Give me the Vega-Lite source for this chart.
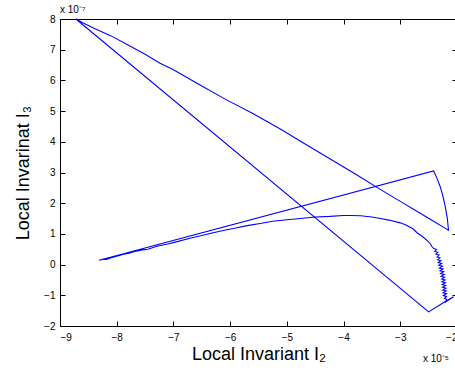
{
  "$schema": "https://vega.github.io/schema/vega-lite/v6.json",
  "width": 397,
  "height": 307,
  "autosize": {"type": "none"},
  "padding": {"left": 60, "top": 19, "right": 0, "bottom": 50},
  "background": "white",
  "config": {
    "font": "Liberation Sans",
    "view": {"stroke": null},
    "axis": {
      "grid": false,
      "domainColor": "black",
      "domainWidth": 1,
      "tickColor": "black",
      "tickWidth": 1,
      "tickSize": -5,
      "labelFont": "Liberation Sans",
      "labelFontSize": 10,
      "labelColor": "black",
      "titleFont": "Liberation Sans",
      "titleFontSize": 18,
      "titleFontWeight": "normal",
      "titleColor": "black"
    }
  },
  "datasets": {
    "traj": [
      {"k": 1, "i2": -8.31, "i3": 0.14},
      {"k": 2, "i2": -8.25, "i3": 0.17},
      {"k": 3, "i2": -8.18, "i3": 0.17},
      {"k": 4, "i2": -8.1, "i3": 0.22},
      {"k": 5, "i2": -7.95, "i3": 0.3},
      {"k": 6, "i2": -7.88, "i3": 0.34},
      {"k": 7, "i2": -7.8, "i3": 0.36},
      {"k": 8, "i2": -7.7, "i3": 0.42},
      {"k": 9, "i2": -7.55, "i3": 0.48},
      {"k": 10, "i2": -7.45, "i3": 0.5},
      {"k": 11, "i2": -7.29, "i3": 0.6},
      {"k": 12, "i2": -7.1, "i3": 0.67},
      {"k": 13, "i2": -6.95, "i3": 0.74},
      {"k": 14, "i2": -6.71, "i3": 0.86},
      {"k": 15, "i2": -6.5, "i3": 0.95},
      {"k": 16, "i2": -6.3, "i3": 1.04},
      {"k": 17, "i2": -6.1, "i3": 1.12},
      {"k": 18, "i2": -5.9, "i3": 1.19},
      {"k": 19, "i2": -5.7, "i3": 1.27},
      {"k": 20, "i2": -5.47, "i3": 1.34},
      {"k": 21, "i2": -5.25, "i3": 1.41},
      {"k": 22, "i2": -5.0, "i3": 1.46},
      {"k": 23, "i2": -4.76, "i3": 1.5},
      {"k": 24, "i2": -4.5, "i3": 1.55},
      {"k": 25, "i2": -4.24, "i3": 1.57},
      {"k": 26, "i2": -4.0, "i3": 1.6},
      {"k": 27, "i2": -3.88, "i3": 1.6},
      {"k": 28, "i2": -3.7, "i3": 1.59},
      {"k": 29, "i2": -3.5, "i3": 1.55},
      {"k": 30, "i2": -3.35, "i3": 1.5},
      {"k": 31, "i2": -3.2, "i3": 1.45},
      {"k": 32, "i2": -3.0, "i3": 1.36},
      {"k": 33, "i2": -2.9, "i3": 1.29},
      {"k": 34, "i2": -2.77, "i3": 1.16},
      {"k": 35, "i2": -2.7, "i3": 1.03},
      {"k": 36, "i2": -2.62, "i3": 0.93},
      {"k": 37, "i2": -2.53, "i3": 0.79},
      {"k": 38, "i2": -2.47, "i3": 0.68},
      {"k": 39, "i2": -2.44, "i3": 0.58},
      {"k": 40, "i2": -2.41, "i3": 0.52},
      {"k": 41, "i2": -2.36, "i3": 0.49},
      {"k": 42, "i2": -2.39, "i3": 0.43},
      {"k": 43, "i2": -2.34, "i3": 0.4},
      {"k": 44, "i2": -2.37, "i3": 0.34},
      {"k": 45, "i2": -2.315, "i3": 0.31},
      {"k": 46, "i2": -2.35, "i3": 0.25},
      {"k": 47, "i2": -2.3, "i3": 0.22},
      {"k": 48, "i2": -2.34, "i3": 0.16},
      {"k": 49, "i2": -2.285, "i3": 0.13},
      {"k": 50, "i2": -2.33, "i3": 0.07},
      {"k": 51, "i2": -2.27, "i3": 0.04},
      {"k": 52, "i2": -2.32, "i3": -0.02},
      {"k": 53, "i2": -2.255, "i3": -0.05},
      {"k": 54, "i2": -2.31, "i3": -0.11},
      {"k": 55, "i2": -2.245, "i3": -0.14},
      {"k": 56, "i2": -2.3, "i3": -0.2},
      {"k": 57, "i2": -2.235, "i3": -0.23},
      {"k": 58, "i2": -2.29, "i3": -0.29},
      {"k": 59, "i2": -2.225, "i3": -0.32},
      {"k": 60, "i2": -2.28, "i3": -0.38},
      {"k": 61, "i2": -2.22, "i3": -0.41},
      {"k": 62, "i2": -2.27, "i3": -0.47},
      {"k": 63, "i2": -2.21, "i3": -0.5},
      {"k": 64, "i2": -2.265, "i3": -0.56},
      {"k": 65, "i2": -2.205, "i3": -0.59},
      {"k": 66, "i2": -2.26, "i3": -0.65},
      {"k": 67, "i2": -2.2, "i3": -0.68},
      {"k": 68, "i2": -2.255, "i3": -0.74},
      {"k": 69, "i2": -2.195, "i3": -0.77},
      {"k": 70, "i2": -2.25, "i3": -0.83},
      {"k": 71, "i2": -2.19, "i3": -0.86},
      {"k": 72, "i2": -2.245, "i3": -0.92},
      {"k": 73, "i2": -2.185, "i3": -0.95},
      {"k": 74, "i2": -2.24, "i3": -1.01},
      {"k": 75, "i2": -2.185, "i3": -1.04},
      {"k": 76, "i2": -2.22, "i3": -1.1},
      {"k": 77, "i2": -2.185, "i3": -1.13},
      {"k": 78, "i2": -2.2, "i3": -1.22},
      {"k": 79, "i2": -2.06, "i3": -1.05},
      {"k": 80, "i2": -2.22, "i3": -1.22},
      {"k": 81, "i2": -2.5, "i3": -1.54},
      {"k": 82, "i2": -8.72, "i3": 8.0},
      {"k": 83, "i2": -8.6, "i3": 7.88},
      {"k": 84, "i2": -8.4, "i3": 7.7},
      {"k": 85, "i2": -8.1, "i3": 7.45},
      {"k": 86, "i2": -7.8, "i3": 7.15},
      {"k": 87, "i2": -7.5, "i3": 6.85},
      {"k": 88, "i2": -7.235, "i3": 6.56},
      {"k": 89, "i2": -7.0, "i3": 6.35},
      {"k": 90, "i2": -6.53, "i3": 5.85},
      {"k": 91, "i2": -6.088, "i3": 5.39},
      {"k": 92, "i2": -5.6, "i3": 4.92},
      {"k": 93, "i2": -5.1, "i3": 4.4},
      {"k": 94, "i2": -4.7, "i3": 3.95},
      {"k": 95, "i2": -4.235, "i3": 3.44},
      {"k": 96, "i2": -3.8, "i3": 2.96},
      {"k": 97, "i2": -3.353, "i3": 2.45},
      {"k": 98, "i2": -3.0, "i3": 2.06},
      {"k": 99, "i2": -2.7, "i3": 1.73},
      {"k": 100, "i2": -2.45, "i3": 1.45},
      {"k": 101, "i2": -2.206, "i3": 1.18},
      {"k": 102, "i2": -2.15, "i3": 1.12},
      {"k": 103, "i2": -2.17, "i3": 1.5},
      {"k": 104, "i2": -2.206, "i3": 1.88},
      {"k": 105, "i2": -2.25, "i3": 2.25},
      {"k": 106, "i2": -2.294, "i3": 2.53},
      {"k": 107, "i2": -2.35, "i3": 2.8},
      {"k": 108, "i2": -2.412, "i3": 3.05},
      {"k": 109, "i2": -8.31, "i3": 0.14}
    ],
    "notes": [
      {"t": "x 10⁻⁷", "i2": -9.0, "i3": 8.2},
      {"t": "x 10⁻⁵", "i2": -2.6, "i3": -3.18}
    ]
  },
  "layer": [
    {
      "data": {"name": "traj"},
      "mark": {"type": "line", "color": "#0000ff", "strokeWidth": 1.1},
      "encoding": {
        "x": {
          "field": "i2", "type": "quantitative",
          "scale": {"domain": [-9, -2], "nice": false, "zero": false},
          "axis": {"orient": "bottom", "values": [-9, -8, -7, -6, -5, -4, -3, -2], "title": "Local Invariant I₂", "titlePadding": 3, "labelPadding": 11}
        },
        "y": {
          "field": "i3", "type": "quantitative",
          "scale": {"domain": [-2, 8], "nice": false, "zero": false},
          "axis": {"orient": "left", "values": [-2, -1, 0, 1, 2, 3, 4, 5, 6, 7, 8], "title": "Local Invarinat I₃", "titlePadding": 11, "labelPadding": 10}
        },
        "order": {"field": "k", "type": "quantitative"}
      }
    },
    {
      "data": {"name": "traj"},
      "mark": {"type": "point", "opacity": 0},
      "encoding": {
        "x": {
          "field": "i2", "type": "quantitative",
          "scale": {"domain": [-9, -2], "nice": false, "zero": false},
          "axis": {"orient": "top", "values": [-9, -8, -7, -6, -5, -4, -3, -2], "labels": false, "title": null}
        },
        "y": {
          "field": "i3", "type": "quantitative",
          "scale": {"domain": [-2, 8], "nice": false, "zero": false},
          "axis": {"orient": "right", "values": [-2, -1, 0, 1, 2, 3, 4, 5, 6, 7, 8], "labels": false, "title": null}
        }
      }
    },
    {
      "data": {"name": "notes"},
      "mark": {"type": "text", "align": "left", "baseline": "alphabetic", "fontSize": 10, "font": "Liberation Sans", "color": "black", "clip": false},
      "encoding": {
        "x": {"field": "i2", "type": "quantitative", "axis": null},
        "y": {"field": "i3", "type": "quantitative", "axis": null},
        "text": {"field": "t"}
      }
    }
  ],
  "resolve": {"axis": {"x": "independent", "y": "independent"}}
}
